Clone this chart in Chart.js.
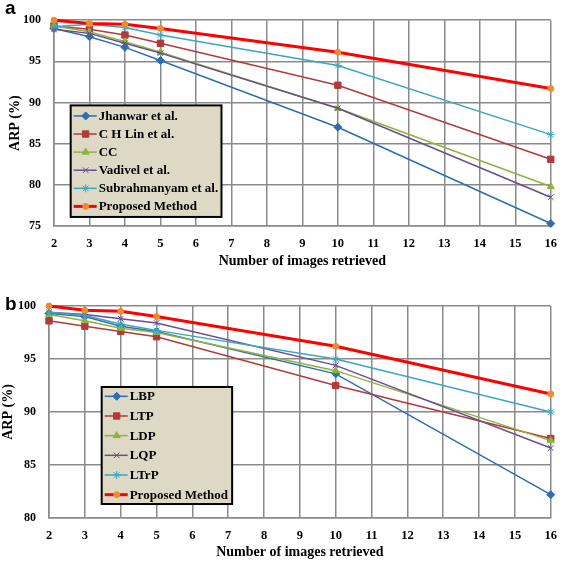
<!DOCTYPE html>
<html>
<head>
<meta charset="utf-8">
<script src="https://cdn.jsdelivr.net/npm/chart.js@4/dist/chart.umd.min.js"></script>
<style>
  body { margin: 0; background: #fff; width: 567px; height: 563px; position: relative; overflow: hidden; }
  .box { position: absolute; left: 0; width: 567px; }
  .tag { position: absolute; left: 5px; font: bold 19px "Liberation Sans", Arial, sans-serif; color: #000; }
</style>
</head>
<body>
<div class="box" style="top:0;height:280px"><canvas id="chartA"></canvas></div>
<div class="box" style="top:280px;height:283px"><canvas id="chartB"></canvas></div>
<div class="tag" style="top:-3px">a</div>
<div class="tag" style="top:293px">b</div>
<script>
// number of images retrieved
const retrieved = [2, 3, 4, 5, 10, 16]

// panel a - ARP (%)
const jhanwar      = [99.0, 98.0, 96.7, 95.1, 87.0, 75.3]
const chLin        = [99.3, 98.9, 98.2, 97.2, 92.1, 83.1]
const ccVals       = [99.3, 98.6, 97.4, 96.1, 89.3, 79.8]
const vadivel      = [98.9, 98.4, 97.2, 96.0, 89.3, 78.5]
const subrahmanyam = [99.2, 99.5, 99.1, 98.2, 94.5, 86.1]
const proposedA    = [100.0, 99.6, 99.5, 99.0, 96.1, 91.7]

// panel b - ARP (%)
const lbp       = [99.3, 99.0, 98.1, 97.6, 93.6, 82.2]
const ltp       = [98.6, 98.1, 97.6, 97.1, 92.5, 87.5]
const ldp       = [99.2, 98.6, 97.9, 97.5, 93.9, 87.3]
const lqp       = [99.4, 99.2, 98.8, 98.4, 94.4, 86.6]
const ltrp      = [99.4, 99.1, 98.3, 97.7, 95.0, 90.0]
const proposedB = [100.0, 99.6, 99.5, 99.0, 96.2, 91.7]

const labelsA = ['Jhanwar et al.', 'C H Lin et al.', 'CC', 'Vadivel et al.', 'Subrahmanyam et al.', 'Proposed Method']
const labelsB = ['LBP', 'LTP', 'LDP', 'LQP', 'LTrP', 'Proposed Method']

const serif = '"Liberation Serif", "Times New Roman", serif'
const gridColor = '#8a8a8a'

// line colour, marker colour, marker style, line width
const styles = [
  { line: '#2f6db0', mark: '#2f6db0', shape: 'rectRot', w: 1.5, r: 4 },
  { line: '#b03b3a', mark: '#b03b3a', shape: 'rect', w: 1.5, r: 4.5 },
  { line: '#8db43c', mark: '#8db43c', shape: 'triangle', w: 1.5, r: 4 },
  { line: '#6b4c91', mark: '#6b4c91', shape: 'crossRot', w: 1.5, r: 4 },
  { line: '#3ba6c2', mark: '#3ba6c2', shape: 'star', w: 1.5, r: 4 },
  { line: '#ff0000', mark: '#f08a2e', shape: 'circle', w: 3, r: 3 },
]

function makeSets(labels, series) {
  return series.map((vals, i) => {
    const s = styles[i]
    return {
      label: labels[i],
      data: vals.map((v, k) => ({ x: retrieved[k], y: v })),
      borderColor: s.line,
      borderWidth: s.w,
      backgroundColor: s.mark,
      pointStyle: s.shape,
      pointRadius: s.r,
      pointBackgroundColor: s.mark,
      pointBorderColor: s.mark,
      pointBorderWidth: 1,
      clip: false,
      order: 5 - i,
    }
  })
}

// legend box drawn inside the plot, placed in data coordinates
const boxLegend = {
  id: 'boxLegend',
  afterDatasetsDraw(chart, args, opts) {
    const { ctx, scales: { x, y } } = chart
    const left = x.getPixelForValue(opts.x1)
    const right = x.getPixelForValue(opts.x2)
    const top = y.getPixelForValue(opts.y1)
    const bottom = y.getPixelForValue(opts.y2)
    ctx.save()
    ctx.fillStyle = '#ddd9c4'
    ctx.fillRect(left, top, right - left, bottom - top)
    ctx.strokeStyle = '#000'
    ctx.lineWidth = 2
    ctx.strokeRect(left, top, right - left, bottom - top)
    const rowH = (bottom - top - opts.pad * 2) / chart.data.datasets.length
    chart.data.datasets.forEach((ds, i) => {
      const cy = top + opts.pad + rowH * (i + 0.5)
      ctx.strokeStyle = ds.borderColor
      ctx.lineWidth = ds.borderWidth
      ctx.beginPath()
      ctx.moveTo(left + 3, cy)
      ctx.lineTo(left + 26, cy)
      ctx.stroke()
      ctx.fillStyle = ds.pointBackgroundColor
      ctx.strokeStyle = ds.pointBorderColor
      ctx.lineWidth = 1
      Chart.helpers.drawPoint(ctx, {
        pointStyle: ds.pointStyle, radius: ds.pointRadius, rotation: 0, borderWidth: 1,
      }, left + 15, cy)
      ctx.fillStyle = '#000'
      ctx.font = 'bold 13px ' + serif
      ctx.textBaseline = 'middle'
      ctx.textAlign = 'left'
      ctx.fillText(ds.label, left + 28, cy + 0.5)
    })
    ctx.restore()
  }
}

function makeChart(id, labels, series, o) {
  return new Chart(document.getElementById(id), {
    type: 'line',
    data: { datasets: makeSets(labels, series) },
    plugins: [boxLegend],
    options: {
      responsive: true,
      maintainAspectRatio: false,
      animation: false,
      layout: { padding: { top: o.padTop, right: o.padRight, left: 0, bottom: 0 } },
      plugins: {
        legend: { display: false },
        tooltip: { enabled: false },
        boxLegend: o.legend,
      },
      scales: {
        x: {
          type: 'linear', min: 2, max: 16,
          afterFit: (s) => { s.height = o.xHeight },
          ticks: { stepSize: 1, color: '#000', padding: o.xTickPad, font: { family: serif, weight: 'bold', size: 12.5 } },
          grid: { color: gridColor, lineWidth: 1.5, drawTicks: false },
          border: { color: gridColor, width: 1.5 },
          title: { display: true, text: 'Number of images retrieved', color: '#000',
                   padding: { top: 0, bottom: o.xTitlePad }, font: { family: serif, weight: 'bold', size: 14 } },
        },
        y: {
          min: o.yMin, max: 100,
          afterFit: (s) => { s.width = o.yWidth },
          ticks: { stepSize: 5, color: '#000', padding: 13, font: { family: serif, weight: 'bold', size: 12 } },
          grid: { color: gridColor, lineWidth: 1.5, drawTicks: false },
          border: { color: gridColor, width: 1.5 },
          title: { display: true, text: 'ARP (%)', color: '#000',
                   padding: { top: o.yTitlePad, bottom: 0 }, font: { family: serif, weight: 'bold', size: 14 } },
        },
      },
    },
  })
}

makeChart('chartA', labelsA, [jhanwar, chLin, ccVals, vadivel, subrahmanyam, proposedA], {
  padTop: 7, padRight: 10, xHeight: 54, yWidth: 54, yMin: 75,
  xTickPad: 10, xTitlePad: 10, yTitlePad: 7,
  legend: { x1: 2.47, x2: 6.72, y1: 89.65, y2: 76.1, pad: 1.5 },
})

makeChart('chartB', labelsB, [lbp, ltp, ldp, lqp, ltrp, proposedB], {
  padTop: 26, padRight: 14, xHeight: 45, yWidth: 49, yMin: 80,
  xTickPad: 10, xTitlePad: 2, yTitlePad: 0,
  legend: { x1: 3.47, x2: 7.11, y1: 92.36, y2: 81.32, pad: -0.5 },
})
</script>
</body>
</html>
